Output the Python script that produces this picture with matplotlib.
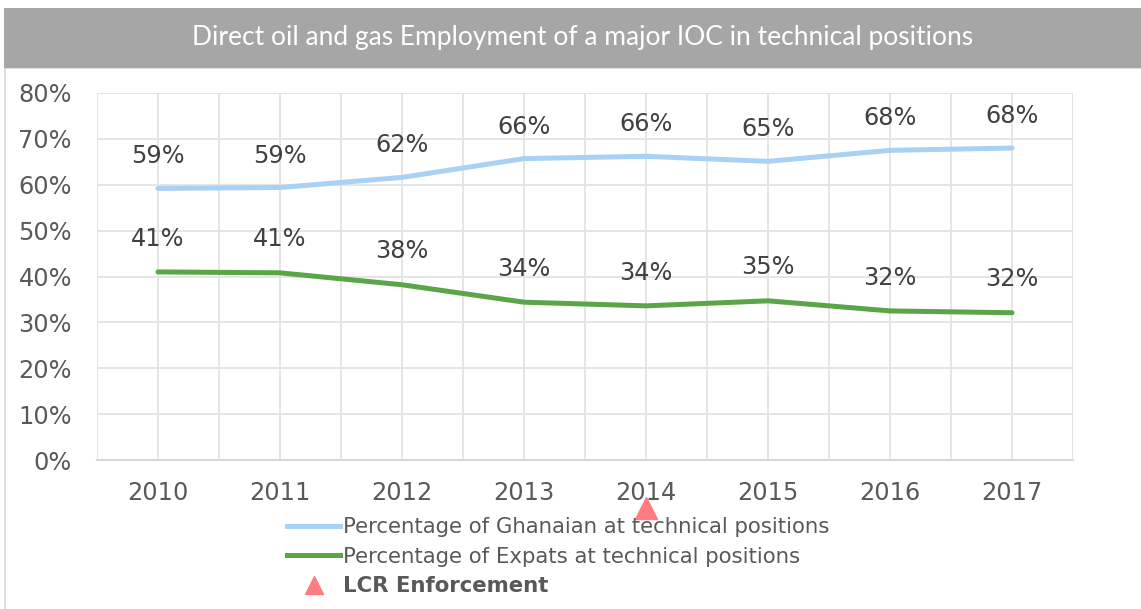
import matplotlib
matplotlib.use('Agg')
import matplotlib.pyplot as plt
from matplotlib.lines import Line2D
from matplotlib.patches import Rectangle
import numpy as np

# chart data
years = ['2010', '2011', '2012', '2013', '2014', '2015', '2016', '2017']
ghanaian = [0.592, 0.594, 0.616, 0.657, 0.662, 0.651, 0.675, 0.680]
expats = [0.410, 0.408, 0.382, 0.344, 0.336, 0.347, 0.325, 0.321]
ghanaian_labels = ['59%', '59%', '62%', '66%', '66%', '65%', '68%', '68%']
expats_labels = ['41%', '41%', '38%', '34%', '34%', '35%', '32%', '32%']
lcr_year = '2014'
y_ticks = [0, 0.1, 0.2, 0.3, 0.4, 0.5, 0.6, 0.7, 0.8]

title = "Direct oil and gas Employment of a major IOC in technical positions"

W, H = 1141, 609
fig = plt.figure(figsize=(W / 100, H / 100), dpi=100)
fig.patch.set_facecolor('white')

# title banner and body frame
body = Rectangle((5 / W, -0.01), 1.0, (H - 68) / H + 0.01, transform=fig.transFigure,
                 facecolor='white', edgecolor='#d9d9d9', lw=1.2, zorder=-5)
fig.patches.append(body)
fig.add_artist(Rectangle((4 / W, 1 - 68 / H), 1.0, 60 / H, transform=fig.transFigure,
                         facecolor='#a6a6a6', edgecolor='none', zorder=-4))
fig.text(583 / W, 1 - 38 / H, title, color='white', ha='center', va='center',
         fontsize=19, family='Lato')

ax = fig.add_axes([97 / W, 1 - 460 / H, (1073 - 97) / W, (460 - 93) / H])
ax.patch.set_alpha(0)
x = np.arange(len(years))

ax.plot(x, ghanaian, color='#a9d1f3', lw=3.6, solid_capstyle='round',
        label='Percentage of Ghanaian at technical positions', zorder=3)
ax.plot(x, expats, color='#5aa548', lw=3.6, solid_capstyle='round',
        label='Percentage of Expats at technical positions', zorder=3)

for xi, v, t in zip(x, ghanaian, ghanaian_labels):
    ax.annotate(t, (xi, v), xytext=(0, 23), textcoords='offset points',
                ha='center', va='center', fontsize=17.3, color='#404040')
for xi, v, t in zip(x, expats, expats_labels):
    ax.annotate(t, (xi, v), xytext=(0, 24), textcoords='offset points',
                ha='center', va='center', fontsize=17.3, color='#404040')

# LCR enforcement marker below the axis
lcr_x = years.index(lcr_year)
ax.plot([lcr_x], [-0.13], marker='^', ms=16, color='#ff7c80', ls='none',
        clip_on=False, transform=ax.get_xaxis_transform(), zorder=5)

ax.set_xlim(-0.5, len(years) - 0.5)
ax.set_ylim(0, 0.8)
ax.set_xticks(x)
ax.set_xticklabels(years)
ax.set_xticks(np.arange(-0.5, len(years), 1.0), minor=True)
ax.set_yticks(y_ticks)
ax.set_yticklabels([f'{int(round(v * 100))}%' for v in y_ticks])
ax.tick_params(axis='both', which='both', length=0, labelsize=17.3, labelcolor='#595959')
ax.tick_params(axis='y', pad=18)
ax.tick_params(axis='x', pad=15)
ax.grid(True, which='both', color='#e3e3e3', lw=1.3)
ax.set_axisbelow(True)
for side in ['top', 'right', 'left']:
    ax.spines[side].set_visible(False)
ax.spines['bottom'].set_color('#d9d9d9')
ax.spines['bottom'].set_linewidth(1.6)
ax.spines['bottom'].set_zorder(2)

handles = [Line2D([], [], color='#a9d1f3', lw=3.6),
           Line2D([], [], color='#5aa548', lw=3.6),
           Line2D([], [], color='#ff7c80', marker='^', ms=13, ls='none')]
labels = ['Percentage of Ghanaian at technical positions',
          'Percentage of Expats at technical positions',
          'LCR Enforcement']
leg = fig.legend(handles, labels, loc='upper left', bbox_to_anchor=(287 / W, 1 - 517 / H),
                 frameon=False, fontsize=15.3, handlelength=2.5, handletextpad=0.15,
                 labelspacing=0.45, borderpad=0, borderaxespad=0)
for i, txt in enumerate(leg.get_texts()):
    txt.set_color('#595959')
    if i == 2:
        txt.set_fontweight('bold')

fig.savefig('out.png', dpi=100)
